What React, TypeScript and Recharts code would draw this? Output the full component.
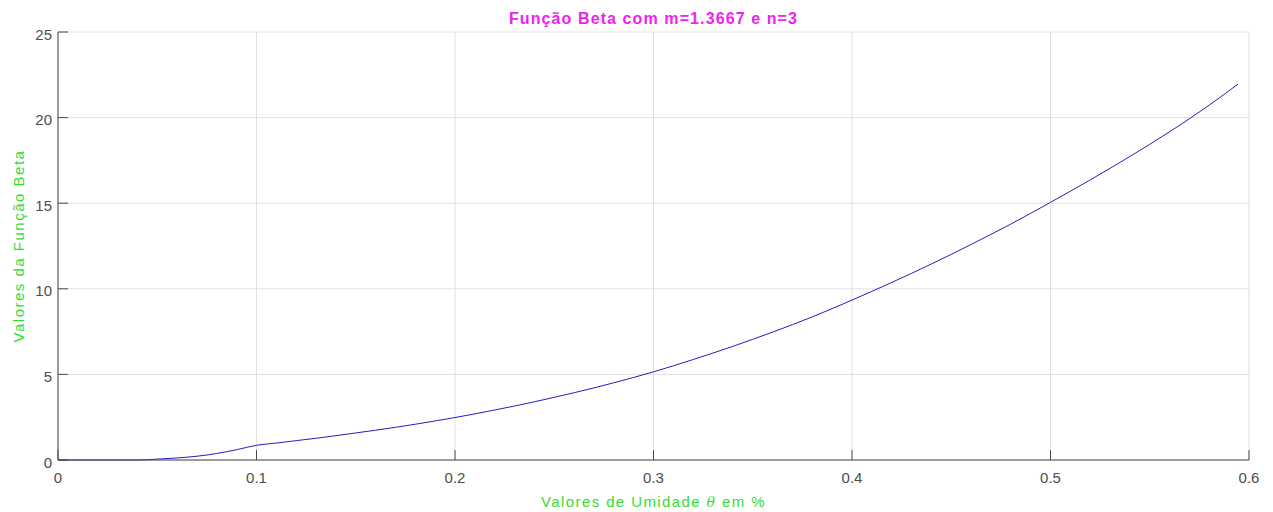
import { LineChart, Line, XAxis, YAxis, CartesianGrid } from 'recharts'

const theta = [
  0, 0.01, 0.02, 0.03, 0.04, 0.05, 0.06, 0.07, 0.08, 0.09, 0.1, 0.11, 0.12, 0.13, 0.14, 0.15,
  0.16, 0.17, 0.18, 0.19, 0.2, 0.22, 0.24, 0.25, 0.26, 0.28, 0.3, 0.32, 0.34, 0.35, 0.36, 0.38,
  0.4, 0.42, 0.44, 0.45, 0.46, 0.48, 0.5, 0.52, 0.54, 0.55, 0.56, 0.58, 0.5945,
]
const beta = [
  0, 0, 0, 0, 0, 0.05, 0.12, 0.22, 0.38, 0.6, 0.86, 0.99, 1.13, 1.27, 1.42, 1.58,
  1.74, 1.91, 2.09, 2.28, 2.48, 2.92, 3.4, 3.66, 3.93, 4.51, 5.15, 5.87, 6.64, 7.05, 7.47, 8.36,
  9.34, 10.37, 11.45, 12.01, 12.59, 13.78, 15.05, 16.36, 17.73, 18.44, 19.17, 20.73, 21.96,
]
const xTicks = [0, 0.1, 0.2, 0.3, 0.4, 0.5, 0.6]
const yTicks = [0, 5, 10, 15, 20, 25]

const title = 'Função Beta com m=1.3667 e n=3'
const xLabel = 'Valores de Umidade'
const xLabelTail = 'em %'
const yLabel = 'Valores da Função Beta'

const data = theta.map((t, i) => ({ theta: t, beta: beta[i] }))

const axisColor = '#4a4a4a'
const textColor = '#4d4d4d'
const green = '#33dd33'
const magenta = '#ee22ee'
const font = 'Liberation Sans, Arial, sans-serif'
const TICK = 10

const BottomTick = ({ x, y, payload }: any) => (
  <g>
    <line x1={x} x2={x} y1={y} y2={y - TICK} stroke={axisColor} />
    <text x={x} y={y + 23} textAnchor="middle" fill={textColor} fontSize={15} fontFamily={font}>
      {payload.value}
    </text>
  </g>
)

const TopTick = ({ x, y }: any) => <line x1={x} x2={x} y1={y} y2={y + TICK} stroke={axisColor} />

const LeftTick = ({ x, y, payload }: any) => (
  <g>
    <line x1={x} x2={x + TICK} y1={y} y2={y} stroke={axisColor} />
    <text x={x - 6} y={y + 7.5} textAnchor="end" fill={textColor} fontSize={15} fontFamily={font}>
      {payload.value}
    </text>
  </g>
)

const RightTick = ({ x, y }: any) => <line x1={x} x2={x - TICK} y1={y} y2={y} stroke={axisColor} />

export default function App() {
  return (
    <div style={{ position: 'absolute', left: 0, top: 0, background: '#fff' }}>
      <LineChart width={1273} height={512} data={data} margin={{ top: 32, right: 24, bottom: 0, left: 0 }}>
        <CartesianGrid stroke="#e0e0e0" />
        <XAxis
          dataKey="theta"
          type="number"
          domain={[0, 0.6]}
          ticks={xTicks}
          height={52}
          stroke={axisColor}
          tickSize={0}
          tickMargin={0}
          tick={<BottomTick />}
          label={({ viewBox }: any) => {
            const cx = viewBox.x + viewBox.width / 2
            return (
              <g>
                <text
                  x={cx}
                  y={507}
                  textAnchor="middle"
                  fill={green}
                  fontSize={15}
                  letterSpacing={1.4}
                  fontFamily={font}
                >
                  {xLabel}{' '}
                  <tspan fontStyle="italic" fontFamily="DejaVu Serif, serif" fontSize={14}>θ</tspan>
                  {' '}{xLabelTail}
                </text>
                <text
                  x={cx}
                  y={24}
                  textAnchor="middle"
                  fill={magenta}
                  fontSize={16}
                  fontWeight="bold"
                  letterSpacing={1.1}
                  fontFamily={font}
                >
                  {title}
                </text>
              </g>
            )
          }}
        />
        <XAxis
          xAxisId="top"
          orientation="top"
          dataKey="theta"
          type="number"
          domain={[0, 0.6]}
          ticks={xTicks}
          height={0}
          stroke={axisColor}
          tickSize={0}
          tickMargin={0}
          tick={<TopTick />}
        />
        <YAxis
          type="number"
          domain={[0, 25]}
          ticks={yTicks}
          width={58}
          stroke={axisColor}
          tickSize={0}
          tickMargin={0}
          tick={<LeftTick />}
          label={({ viewBox }: any) => {
            const cy = viewBox.y + viewBox.height / 2
            return (
              <text
                x={24}
                y={cy}
                transform={`rotate(-90 24 ${cy})`}
                textAnchor="middle"
                fill={green}
                fontSize={15}
                letterSpacing={1.5}
                fontFamily={font}
              >
                {yLabel}
              </text>
            )
          }}
        />
        <YAxis
          yAxisId="right"
          orientation="right"
          type="number"
          domain={[0, 25]}
          ticks={yTicks}
          width={0}
          stroke={axisColor}
          tickSize={0}
          tickMargin={0}
          tick={<RightTick />}
        />
        <Line
          dataKey="beta"
          type="monotone"
          stroke="#1f1fc0"
          strokeWidth={1}
          dot={false}
          isAnimationActive={false}
        />
      </LineChart>
    </div>
  )
}
